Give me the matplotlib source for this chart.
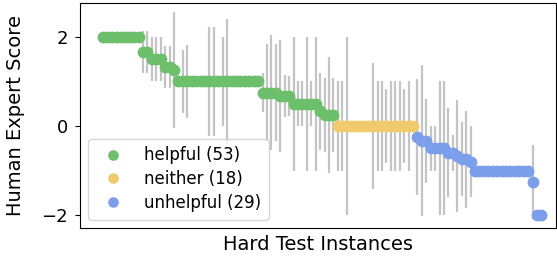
import numpy as np
import matplotlib
matplotlib.use("Agg")
from matplotlib import pyplot as plt

# mean expert score per hard test instance (sorted), and its spread
helpful_mean = [2.0] * 9 + [1.67, 1.67, 1.5, 1.5, 1.5, 1.33, 1.33, 1.25] + [1.0] * 19 + \
    [0.75, 0.75, 0.75, 0.75, 0.67, 0.67, 0.67, 0.5, 0.5, 0.5, 0.5, 0.5, 0.5, 0.33, 0.25, 0.25, 0.25]
helpful_std = [0.0] * 9 + [0.47, 0.47, 0.5, 0.5, 0.5, 0.47, 0.47, 1.3] + \
    [0.0, 0.71, 0.82, 0.0, 0.0, 0.0, 0.0, 1.22, 1.22, 0.0, 1.0, 1.41] + [0.0] * 7 + \
    [0.43, 1.09, 1.3, 1.09, 1.25, 0.47, 0.45, 1.5, 0.5, 0.5, 1.5, 0.5, 1.5, 0.87, 0.83, 1.3, 0.83]

neither_mean = [0.0] * 18
neither_std = [1.0, 1.0, 2.0, 0.0, 0.0, 0.0, 0.0, 0.0, 1.41, 1.0, 1.0, 0.82, 1.0, 1.0, 1.0, 0.82, 1.0, 0.0]

unhelpful_mean = [-0.25, -0.33, -0.33, -0.5, -0.5, -0.5, -0.5, -0.6, -0.6, -0.67, -0.75, -0.75, -0.8] + \
    [-1.0] * 13 + [-1.25, -2.0, -2.0]
unhelpful_std = [1.3, 1.7, 0.94, 0.5, 0.5, 1.5, 1.5, 1.0, 0.4, 1.25, 0.83, 1.09, 0.8] + \
    [0.0] * 13 + [0.83, 0.0, 0.0]

groups = [
    ("helpful", helpful_mean, helpful_std, "#6cbf6b"),
    ("neither", neither_mean, neither_std, "#f0cb6b"),
    ("unhelpful", unhelpful_mean, unhelpful_std, "#7b9fea"),
]

fig = plt.figure(figsize=(5.57, 2.57), dpi=100)
ax = fig.add_axes([80 / 557, 1 - 228 / 257, 476 / 557, 225 / 257])

start = 0
for name, mean, std, color in groups:
    x = np.arange(start, start + len(mean))
    ax.errorbar(x, mean, yerr=std, fmt="none", ecolor="#c4c4c4", elinewidth=1.6, zorder=1)
    ax.plot(x, mean, "o", color=color, markersize=8.5, markeredgewidth=0, zorder=2,
            label=f"{name} ({len(mean)})")
    start += len(mean)

ax.set_xlim(-5.25, 102.3)
ax.set_ylim(-2.29, 2.76)
ax.set_xticks([])
ax.set_yticks([-2, 0, 2])
ax.set_yticklabels(["\u22122", "0", "2"])
ax.tick_params(axis="y", labelsize=13, pad=5)
ax.set_xlabel("Hard Test Instances", fontsize=14, labelpad=5)
ax.set_ylabel("Human Expert Score", fontsize=14, labelpad=12)

leg = ax.legend(loc="lower left", fontsize=12, handletextpad=0.9, borderpad=0.45,
                labelspacing=0.35, handlelength=2.0, markerscale=0.9)

fig.savefig("out.png", dpi=100)
